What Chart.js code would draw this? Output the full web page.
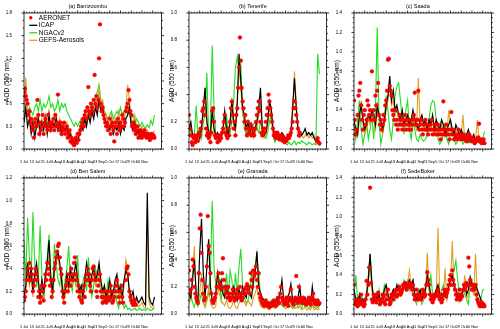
<!DOCTYPE html>
<html>
<head>
<meta charset="utf-8">
<script src="https://cdn.jsdelivr.net/npm/chart.js@4.4.0/dist/chart.umd.min.js"></script>
<style>
  html, body { margin: 0; padding: 0; background: #fff; }
  #wrap { position: relative; width: 500px; height: 329px; overflow: hidden; background: #fff; }
  #wrap canvas { position: absolute; }
</style>
</head>
<body>
<div id="wrap"></div>
<script>
// x axis = days since 1 Jul; model lines every 2 days, AERONET daily
const tickLabels = ["1 Jul", "13 Jul", "25 Jul", "6 Aug", "18 Aug", "30 Aug", "11 Sep",
  "23 Sep", "5 Oct", "17 Oct", "29 Oct", "10 Nov", "21 Nov"];
const siteNames = ["(a) Banizoumbu", "(b) Tenerife", "(c) Saada", "(d) Ben Salem", "(e) Granada", "(f) SedeBoker"];
const yMax = [1.8, 1.0, 1.4, 1.2, 1.0, 1.4];
const yStep = [0.3, 0.2, 0.2, 0.2, 0.2, 0.2];
const yMinor = [0.1, 0.05, 0.05, 0.05, 0.05, 0.05];

// (a) Banizoumbu
const aeronetA = [0.75,0.8,0.7,0.65,0.6,0.45,0.5,0.35,0.4,0.25,0.3,0.15,0.35,0.4,0.3,0.65,0.45,0.2,0.35,0.25,0.3,0.45,0.2,0.35,0.4,0.3,0.25,0.45,0.3,0.35,0.25,
  0.35,0.3,0.4,0.25,0.45,0.3,0.35,0.72,0.3,0.25,0.35,0.2,0.3,0.25,0.35,0.2,0.25,0.3,0.15,0.2,0.25,0.1,0.15,0.08,0.12,0.05,0.1,0.15,0.08,0.2,0.12,
  0.2,0.25,0.3,0.35,0.4,0.3,0.45,0.5,0.4,0.55,0.82,0.5,0.45,0.6,0.55,0.5,0.65,0.98,0.6,0.7,0.55,0.65,1.2,1.65,0.6,0.5,0.55,0.45,0.4,0.35,
  0.3,0.35,0.25,0.3,0.4,0.2,0.3,0.35,0.25,0.1,0.3,0.35,0.2,0.4,0.3,0.25,0.35,0.3,0.45,0.4,0.3,0.35,0.5,0.55,0.6,0.78,0.65,0.5,0.45,0.3,0.35,
  0.25,0.3,0.2,0.25,0.3,0.15,0.2,0.25,0.2,0.15,0.22,0.18,0.25,0.2,0.15,0.18,0.2,0.15,0.12,0.18,0.2,0.15,0.18,0.15];
const icapA = [0.35,0.55,0.3,0.4,0.2,0.35,0.15,0.3,0.4,0.2,0.35,0.25,
  0.4,0.2,0.45,0.25,0.35,0.3,0.4,0.25,0.35,0.2,0.3,0.25,
  0.3,0.15,0.2,0.1,0.08,0.15,0.1,0.2,0.3,0.25,0.4,0.3,
  0.45,0.35,0.5,0.4,0.55,0.45,0.65,0.5,0.55,0.4,0.35,0.3,
  0.25,0.35,0.2,0.3,0.25,0.35,0.2,0.3,0.25,0.4,0.45,0.55,
  0.3,0.25,0.35,0.2,0.25,0.15,0.25,0.2,0.15,0.2,0.12,0.18,
  0.15,0.18];
const ngacA = [0.35,0.5,0.45,0.55,0.5,0.45,0.55,0.6,0.5,0.65,0.5,0.6,
  0.55,0.6,0.7,0.55,0.6,0.5,0.55,0.65,0.5,0.6,0.55,0.6,
  0.5,0.45,0.4,0.35,0.3,0.35,0.3,0.35,0.4,0.35,0.45,0.4,
  0.5,0.45,0.6,0.55,0.7,0.75,0.85,0.65,0.55,0.5,0.45,0.4,
  0.45,0.5,0.4,0.45,0.5,0.45,0.55,0.45,0.5,0.55,0.45,0.5,
  0.4,0.45,0.35,0.4,0.35,0.3,0.35,0.3,0.28,0.32,0.28,0.38,
  0.32,0.45];
const gefsA = [0.4,0.95,0.45,0.5,0.3,0.4,0.25,0.35,0.45,0.3,0.4,0.3,
  0.45,0.3,0.5,0.3,0.4,0.35,0.45,0.3,0.4,0.25,0.35,0.3,
  0.35,0.2,0.25,0.12,0.05,0.12,0.1,0.25,0.35,0.3,0.45,0.35,
  0.5,0.45,0.55,0.45,0.6,0.55,0.8,0.6,0.65,0.5,0.45,0.35,
  0.3,0.45,0.3,0.4,0.35,0.5,0.3,0.4,0.35,0.55,0.85,0.65,
  0.4,0.3,0.45,0.3,0.3,0.2,0.3,0.25,0.2,0.25,0.18,0.22,
  0.2,0.25];

// (b) Tenerife
const aeronetB = [0.25,0.15,0.1,0.05,0.03,0.08,0.1,0.05,0.08,0.1,0.06,0.12,0.1,0.15,0.2,0.28,0.3,0.35,0.25,0.15,0.1,0.12,0.08,0.1,0.05,0.12,0.28,0.3,0.2,0.1,0.08,
  0.1,0.05,0.08,0.06,0.1,0.08,0.12,0.15,0.2,0.25,0.12,0.1,0.08,0.15,0.1,0.2,0.3,0.35,0.25,0.15,0.2,0.1,0.25,0.3,0.45,0.6,0.82,0.65,0.45,0.35,0.3,
  0.2,0.25,0.15,0.1,0.2,0.12,0.15,0.18,0.1,0.15,0.12,0.1,0.15,0.2,0.25,0.3,0.35,0.28,0.2,0.12,0.1,0.15,0.12,0.15,0.2,0.25,0.3,0.4,0.35,0.3,
  0.25,0.2,0.15,0.1,0.12,0.08,0.1,0.12,0.08,0.1,0.07,0.08,0.1,0.06,0.08,0.05,0.07,0.06,0.08,0.1,0.08,0.1,0.12,0.15,0.2,0.3,0.35,0.3,0.25,0.2,0.15,
  0.1,0.12,null,null,null,null,null,null,null,null,null,null,null,null,null,null,null,null,null,null,0.06,0.08,0.05,0.04];
const icapB = [0.15,0.2,0.1,0.08,0.05,0.1,0.08,0.15,0.3,0.45,0.2,0.12,
  0.1,0.3,0.15,0.1,0.12,0.08,0.1,0.15,0.28,0.15,0.1,0.2,
  0.35,0.2,0.15,0.35,0.7,0.5,0.3,0.25,0.15,0.2,0.12,0.18,
  0.1,0.15,0.2,0.3,0.45,0.15,0.1,0.12,0.2,0.35,0.3,0.15,
  0.1,0.12,0.08,0.1,0.12,0.1,0.08,0.07,0.1,0.12,0.3,0.52,
  0.3,0.15,0.12,0.1,0.12,0.15,0.1,0.12,0.1,0.12,0.08,0.06,
  0.05,0.06];
const ngacB = [0.1,0.15,0.08,0.1,0.32,0.1,0.15,0.08,0.2,0.25,0.56,0.1,
  0.15,0.76,0.3,0.1,0.08,0.1,0.08,0.15,0.12,0.25,0.1,0.12,
  0.2,0.35,0.6,0.68,0.55,0.62,0.3,0.15,0.1,0.2,0.15,0.1,
  0.18,0.2,0.15,0.12,0.2,0.15,0.1,0.08,0.12,0.2,0.25,0.1,
  0.05,0.08,0.06,0.1,0.08,0.05,0.04,0.03,0.05,0.03,0.04,0.06,
  0.03,0.05,0.04,0.06,0.05,0.04,0.03,0.05,0.04,0.03,0.04,0.03,
  0.7,0.55];
const gefsB = [0.12,0.18,0.08,0.07,0.05,0.08,0.07,0.12,0.28,0.45,0.18,0.1,
  0.08,0.25,0.12,0.08,0.1,0.07,0.08,0.12,0.25,0.12,0.08,0.18,
  0.38,0.18,0.12,0.3,0.6,0.45,0.25,0.2,0.12,0.15,0.1,0.15,
  0.08,0.12,0.15,0.25,0.35,0.12,0.08,0.1,0.15,0.3,0.25,0.12,
  0.08,0.1,0.06,0.08,0.1,0.08,0.06,0.05,0.08,0.1,0.25,0.57,
  0.35,0.12,0.08,0.1,0.08,0.1,0.12,0.08,0.1,0.08,0.1,0.06,
  0.05,0.04];

// (c) Saada
const aeronetC = [0.5,0.3,0.15,0.2,0.35,0.55,0.6,0.68,0.45,0.3,0.2,0.35,0.4,0.25,0.3,0.5,0.45,0.35,0.4,0.3,0.8,0.35,0.4,0.3,0.55,0.45,0.6,0.68,0.35,0.25,0.3,
  0.2,0.25,0.35,0.3,0.45,0.5,0.6,0.92,0.93,0.65,0.6,0.55,0.4,0.35,0.3,0.4,0.25,0.3,0.2,0.25,0.35,0.3,0.25,0.2,0.3,0.25,0.35,0.2,0.3,0.25,0.2,
  0.3,0.25,0.2,0.3,0.25,0.35,0.58,0.3,0.25,0.3,0.6,0.2,0.25,0.3,0.2,0.15,0.25,0.2,0.3,0.2,0.25,0.15,0.2,0.25,0.2,0.3,0.15,0.2,0.25,0.2,
  0.15,0.2,0.25,0.15,0.2,0.1,0.15,0.2,0.49,0.15,0.2,0.25,0.15,0.2,0.15,0.1,0.2,0.38,0.15,0.2,0.1,0.15,0.12,0.1,0.15,0.2,0.12,0.1,0.15,0.12,0.1,
  0.15,0.1,0.12,0.08,0.1,0.12,0.15,0.1,0.08,0.12,0.1,0.08,0.06,0.1,0.08,0.1,0.12,0.26,0.08,0.1,0.06,0.08,0.1,0.06];
const icapC = [0.3,0.2,0.15,0.35,0.45,0.3,0.2,0.25,0.35,0.3,0.4,0.35,
  0.25,0.45,0.35,0.3,0.2,0.3,0.45,0.55,0.75,0.5,0.6,0.4,
  0.45,0.35,0.3,0.4,0.25,0.3,0.35,0.25,0.3,0.4,0.3,0.25,
  0.2,0.3,0.35,0.25,0.3,0.2,0.3,0.25,0.35,0.2,0.3,0.25,
  0.2,0.3,0.25,0.15,0.2,0.25,0.3,0.2,0.15,0.25,0.2,0.15,
  0.2,0.15,0.1,0.15,0.2,0.12,0.1,0.15,0.08,0.1,0.12,0.08,
  0.06,0.08];
const ngacC = [0.25,0.1,0.3,0.5,0.2,0.05,0.15,0.3,0.1,0.2,0.35,0.1,
  0.4,1.25,0.3,0.05,0.15,0.3,0.55,0.4,0.2,0.1,0.3,0.55,
  0.65,0.68,0.5,0.3,0.15,0.4,0.5,0.2,0.1,0.3,0.2,0.1,
  0.08,0.15,0.1,0.08,0.1,0.15,0.3,0.45,0.5,0.48,0.3,0.1,
  0.05,0.08,0.15,0.25,0.1,0.05,0.15,0.2,0.1,0.05,0.08,0.12,
  0.1,0.05,0.08,0.1,0.06,0.12,0.1,0.05,0.08,0.1,0.06,0.05,
  0.1,0.18];
const gefsC = [0.25,0.15,0.12,0.3,0.5,0.25,0.15,0.2,0.3,0.25,0.35,0.3,
  0.2,0.4,0.3,0.25,0.15,0.25,0.4,0.5,0.65,0.45,0.5,0.35,
  0.4,0.3,0.25,0.35,0.2,0.25,0.3,0.2,0.25,0.35,0.25,0.2,
  0.73,0.25,0.3,0.2,0.25,0.15,0.25,0.2,0.3,0.15,0.25,0.2,
  0.15,0.25,0.2,0.12,0.15,0.4,0.25,0.15,0.12,0.2,0.15,0.12,
  0.15,0.35,0.08,0.12,0.15,0.1,0.08,0.12,0.06,0.3,0.1,0.06,
  0.05,0.06];

// (d) Ben Salem
const aeronetD = [0.12,0.15,0.2,0.3,0.4,0.35,0.45,0.3,0.4,0.35,0.2,0.25,0.3,0.4,0.35,0.3,0.15,0.2,0.1,0.15,0.25,0.2,0.12,0.25,0.35,0.3,0.45,0.4,0.35,0.25,0.3,
  0.15,0.2,0.3,0.4,0.45,0.5,0.55,0.6,0.62,0.5,0.4,0.35,0.2,0.15,0.1,0.2,0.25,0.3,0.2,0.35,0.3,0.25,0.4,0.35,0.3,0.45,0.5,0.35,0.3,0.2,0.25,
  0.15,0.2,0.12,0.1,0.2,0.25,0.15,0.3,0.35,0.4,0.3,0.35,0.25,0.2,0.3,0.4,0.42,0.35,0.3,0.2,0.15,0.25,0.3,0.35,0.2,0.15,0.1,0.15,0.2,0.12,
  0.1,0.15,0.2,0.12,0.15,0.25,0.2,0.1,0.12,0.15,0.2,0.25,0.3,0.2,0.15,0.1,0.2,0.25,0.15,0.1,null,null,0.3,0.4,0.42,0.35,0.2,0.15,0.12,0.1,0.08,
  0.1,0.12,0.08,null,null,null,null,null,null,null,null,null,null,null,null,null,null,null,null,null,null,null,null,null];
const icapD = [0.15,0.25,0.45,0.3,0.4,0.2,0.35,0.45,0.3,0.15,0.3,0.2,
  0.35,0.45,0.65,0.3,0.2,0.4,0.5,0.55,0.45,0.3,0.15,0.2,
  0.35,0.25,0.4,0.3,0.35,0.45,0.3,0.2,0.25,0.15,0.3,0.45,
  0.35,0.25,0.35,0.4,0.3,0.35,0.45,0.3,0.2,0.25,0.15,0.2,
  0.3,0.15,0.2,0.3,0.35,0.2,0.25,0.15,0.3,0.38,0.35,0.2,
  0.15,0.2,0.1,0.15,0.1,0.12,0.15,0.1,0.08,1.07,0.15,0.1,
  0.08,0.15];
const ngacD = [0.65,0.3,0.85,0.5,0.3,0.9,0.45,0.25,0.3,0.78,0.35,0.1,
  0.3,0.5,0.7,0.35,0.2,0.62,0.45,0.3,0.25,0.4,0.15,0.3,
  0.4,0.6,0.3,0.2,0.35,0.25,0.52,0.2,0.15,0.3,0.35,0.2,
  0.5,0.3,0.15,0.25,0.4,0.35,0.3,0.2,0.1,0.25,0.15,0.3,
  0.2,0.1,0.15,0.25,0.1,0.05,0.2,0.1,0.05,0.08,0.04,0.05,
  0.03,0.04,0.05,0.03,0.04,0.05,0.03,0.04,0.03,0.05,0.04,0.03,
  0.04,0.05];
const gefsD = [0.12,0.2,0.35,0.25,0.35,0.15,0.3,0.4,0.25,0.12,0.25,0.15,
  0.3,0.4,0.5,0.25,0.15,0.35,0.45,0.5,0.4,0.25,0.12,0.15,
  0.3,0.2,0.35,0.25,0.3,0.35,0.25,0.15,0.2,0.12,0.25,0.35,
  0.3,0.2,0.3,0.35,0.25,0.3,0.4,0.25,0.15,0.2,0.12,0.15,
  0.25,0.12,0.15,0.25,0.3,0.15,0.2,0.12,0.25,0.48,0.4,0.15,
  0.1,0.15,0.08,0.1,0.06,0.08,0.1,0.06,0.05,0.85,0.1,0.06,
  0.05,0.08];

// (e) Granada
const aeronetE = [0.32,0.15,0.18,0.25,0.4,0.35,0.2,0.15,0.12,0.1,0.08,0.3,0.63,0.73,0.45,0.25,0.15,0.1,0.12,0.2,0.35,0.72,0.5,0.45,0.3,0.15,0.1,0.08,0.1,0.12,0.15,
  0.2,0.25,0.3,0.2,0.22,0.18,0.3,0.41,0.25,0.2,0.15,0.18,0.12,0.2,0.15,0.1,0.12,0.15,0.18,0.12,0.1,0.15,0.12,0.18,0.15,0.12,0.2,0.15,0.1,0.12,0.15,
  0.18,0.15,0.2,0.22,0.18,0.2,0.15,0.3,0.25,0.2,0.32,0.28,0.3,0.35,0.25,0.2,0.3,0.15,0.12,0.1,0.08,0.07,0.06,0.08,0.1,0.07,0.06,0.08,0.05,0.07,
  0.08,0.06,0.07,0.1,0.08,0.06,0.07,0.1,0.12,0.08,0.15,0.2,0.12,0.1,0.08,0.07,0.1,0.12,0.08,0.06,0.1,0.12,0.18,0.1,0.08,0.07,0.1,0.12,0.28,0.1,0.08,
  0.2,0.12,0.1,0.08,0.1,0.12,0.08,0.1,0.07,0.08,0.1,0.12,0.08,0.07,0.1,0.12,0.15,0.08,0.1,0.07,0.08,0.1,0.07,0.08];
const icapE = [0.15,0.12,0.25,0.4,0.15,0.1,0.45,0.7,0.3,0.12,0.35,0.55,
  0.2,0.1,0.08,0.15,0.3,0.2,0.25,0.15,0.12,0.2,0.15,0.1,
  0.12,0.2,0.15,0.1,0.18,0.12,0.2,0.15,0.12,0.2,0.15,0.12,
  0.25,0.3,0.46,0.2,0.15,0.12,0.1,0.08,0.07,0.06,0.08,0.1,
  0.07,0.12,0.1,0.15,0.25,0.1,0.08,0.12,0.15,0.22,0.1,0.08,
  0.1,0.12,0.2,0.08,0.1,0.12,0.08,0.1,0.07,0.2,0.08,0.1,
  0.07,0.08];
const ngacE = [0.1,0.15,0.08,0.05,0.12,0.06,0.1,0.15,0.08,0.05,0.1,0.15,
  0.3,0.83,0.35,0.2,0.3,0.25,0.1,0.2,0.15,0.3,0.1,0.32,
  0.25,0.1,0.3,0.15,0.35,0.48,0.2,0.12,0.08,0.1,0.15,0.3,
  0.2,0.35,0.45,0.3,0.15,0.08,0.05,0.06,0.08,0.05,0.1,0.06,
  0.08,0.05,0.12,0.08,0.06,0.05,0.1,0.08,0.05,0.06,0.04,0.05,
  0.08,0.05,0.06,0.04,0.08,0.05,0.06,0.04,0.05,0.07,0.05,0.04,
  0.05,0.04];
const gefsE = [0.08,0.1,0.3,0.5,0.1,0.06,0.15,0.3,0.1,0.05,0.1,0.2,
  0.08,0.05,0.04,0.06,0.2,0.15,0.1,0.08,0.06,0.1,0.05,0.04,
  0.06,0.1,0.05,0.04,0.08,0.1,0.12,0.08,0.06,0.1,0.08,0.06,
  0.12,0.15,0.2,0.1,0.06,0.05,0.04,0.05,0.04,0.03,0.05,0.06,
  0.04,0.05,0.06,0.08,0.1,0.05,0.04,0.05,0.06,0.1,0.05,0.04,
  0.05,0.04,0.06,0.03,0.04,0.05,0.03,0.04,0.03,0.06,0.03,0.04,
  0.03,0.04];

// (f) SedeBoker
const aeronetF = [0.3,0.12,0.1,0.15,0.08,0.12,0.1,0.15,0.2,0.1,0.12,0.08,0.1,0.15,0.34,0.2,0.3,0.48,1.3,0.32,0.15,0.12,0.2,0.18,0.15,0.12,0.2,0.22,0.15,0.1,0.12,
  0.15,0.2,0.18,0.12,0.1,0.15,0.2,0.25,0.15,0.1,0.12,0.2,0.18,0.15,0.22,0.2,0.25,0.18,0.2,0.25,0.28,0.2,0.22,0.25,0.3,0.28,0.32,0.3,0.25,0.3,0.28,
  0.32,0.3,0.28,0.25,0.3,0.2,0.15,0.18,0.25,0.2,0.15,0.2,0.18,0.15,0.2,0.25,0.22,0.18,0.2,0.3,0.43,0.35,0.3,0.2,0.15,0.18,0.12,0.15,0.2,0.18,
  0.2,0.22,0.25,0.18,0.15,0.2,0.12,0.15,0.2,0.25,0.2,0.18,0.22,0.25,0.3,0.35,0.4,0.3,0.45,0.35,0.3,0.25,0.2,0.15,0.18,0.2,0.25,0.15,0.2,0.18,0.25,
  0.3,0.25,0.28,0.32,0.3,0.58,0.49,0.35,0.3,0.25,0.3,0.28,0.25,0.3,0.2,0.15,0.12,0.1,0.08,0.1,0.12,0.08,0.1,0.08];
const icapF = [0.25,0.15,0.1,0.2,0.12,0.15,0.1,0.2,0.35,0.62,0.3,0.15,
  0.2,0.15,0.2,0.12,0.15,0.25,0.3,0.2,0.15,0.2,0.25,0.2,
  0.3,0.25,0.2,0.25,0.3,0.25,0.3,0.35,0.3,0.35,0.2,0.15,
  0.2,0.25,0.15,0.2,0.25,0.4,0.3,0.2,0.15,0.2,0.25,0.3,
  0.2,0.15,0.2,0.25,0.2,0.3,0.35,0.4,0.3,0.25,0.2,0.15,
  0.2,0.25,0.3,0.2,0.25,0.38,0.3,0.25,0.3,0.25,0.2,0.15,
  0.1,0.08];
const ngacF = [0.2,0.4,0.15,0.1,0.2,0.15,0.1,0.2,0.4,0.62,0.35,0.15,
  0.2,0.15,0.25,0.1,0.15,0.3,0.25,0.15,0.1,0.2,0.25,0.15,
  0.25,0.3,0.2,0.25,0.35,0.3,0.35,0.25,0.3,0.2,0.15,0.1,
  0.25,0.2,0.1,0.15,0.3,0.35,0.25,0.4,0.2,0.15,0.25,0.2,
  0.15,0.25,0.3,0.2,0.15,0.25,0.35,0.4,0.45,0.55,0.35,0.2,
  0.15,0.25,0.2,0.15,0.1,0.3,0.35,0.25,0.2,0.15,0.1,0.15,
  0.25,0.25];
const gefsF = [0.2,0.12,0.1,0.15,0.1,0.12,0.1,0.15,0.3,0.55,0.25,0.12,
  0.15,0.12,0.15,0.1,0.12,0.2,0.25,0.15,0.12,0.15,0.2,0.18,
  0.25,0.2,0.18,0.2,0.3,0.28,0.3,0.45,0.3,0.35,0.2,0.12,
  0.15,0.2,0.12,0.15,0.2,0.63,0.25,0.15,0.12,0.15,0.2,0.89,
  0.15,0.12,0.15,0.47,0.15,0.25,0.3,0.75,0.25,0.2,0.15,0.12,
  0.15,0.2,0.4,0.15,0.2,0.3,0.25,0.2,0.62,0.2,0.15,0.12,
  0.08,0.06];

const panels = [
  [aeronetA, icapA, ngacA, gefsA],
  [aeronetB, icapB, ngacB, gefsB],
  [aeronetC, icapC, ngacC, gefsC],
  [aeronetD, icapD, ngacD, gefsD],
  [aeronetE, icapE, ngacE, gefsE],
  [aeronetF, icapF, ngacF, gefsF],
];

const FONT = "'Liberation Sans', Arial, Helvetica, sans-serif";

// frame with outward major/minor tick marks on all four sides
const framePlugin = {
  id: "frame",
  afterDraw(chart, args, opts) {
    const { ctx, chartArea: a, scales } = chart;
    ctx.save();
    ctx.strokeStyle = "#000";
    ctx.lineWidth = 0.8;
    ctx.strokeRect(a.left, a.top, a.right - a.left, a.bottom - a.top);
    ctx.beginPath();
    for (let d = 0; d <= scales.x.max; d += 3) {
      const px = scales.x.getPixelForValue(d);
      const len = d % 12 === 0 ? 2.5 : 1.3;
      ctx.moveTo(px, a.bottom); ctx.lineTo(px, a.bottom + len);
      ctx.moveTo(px, a.top); ctx.lineTo(px, a.top - len);
    }
    const n = Math.round(scales.y.max / opts.minor);
    for (let k = 0; k <= n; k++) {
      const v = k * opts.minor;
      const r = v / opts.step;
      const len = Math.abs(r - Math.round(r)) < 1e-6 ? 2.5 : 1.3;
      const py = scales.y.getPixelForValue(v);
      ctx.moveTo(a.left, py); ctx.lineTo(a.left - len, py);
      ctx.moveTo(a.right, py); ctx.lineTo(a.right + len, py);
    }
    ctx.stroke();
    ctx.restore();
  },
};

const titlePlugin = {
  id: "panelTitle",
  afterDraw(chart, args, opts) {
    const { ctx, chartArea: a } = chart;
    ctx.save();
    ctx.fillStyle = "#000";
    ctx.font = "5.5px " + FONT;
    ctx.textAlign = "center";
    ctx.textBaseline = "middle";
    ctx.fillText(opts.text, (a.left + a.right) / 2 - 5, 6);
    ctx.restore();
  },
};

const legendPlugin = {
  id: "aodLegend",
  afterDraw(chart, args, opts) {
    if (!opts.show) return;
    const { ctx, chartArea: a } = chart;
    ctx.save();
    ctx.font = "6.5px " + FONT;
    ctx.textBaseline = "middle";
    chart.data.datasets.forEach((ds, i) => {
      const y = a.top + 4.8 + i * 7.5;
      const x0 = a.left + 5.3;
      if (i === 0) {
        ctx.fillStyle = ds.pointBackgroundColor;
        ctx.beginPath();
        ctx.arc(x0 + 1.5, y, 1.7, 0, Math.PI * 2);
        ctx.fill();
      } else {
        ctx.strokeStyle = ds.borderColor;
        ctx.lineWidth = 1.3;
        ctx.beginPath();
        ctx.moveTo(x0, y);
        ctx.lineTo(x0 + 8, y);
        ctx.stroke();
      }
      ctx.fillStyle = "#000";
      ctx.fillText(ds.label, x0 + 9.5, y);
    });
    ctx.restore();
  },
};

const wrap = document.getElementById("wrap");
const toPoints = (arr, step) => arr.map((v, i) => ({ x: i * step, y: v }));

panels.forEach(([aeronet, icap, ngac, gefs], idx) => {
  const canvas = document.createElement("canvas");
  canvas.width = 166;
  canvas.height = 164;
  canvas.style.left = (idx % 3) * 165 + "px";
  canvas.style.top = Math.floor(idx / 3) * 165 + "px";
  wrap.appendChild(canvas);

  new Chart(canvas.getContext("2d"), {
    type: "line",
    data: {
      datasets: [
        { label: "AERONET", data: toPoints(aeronet, 1), showLine: false, pointRadius: 1.9,
          pointBackgroundColor: "#ff0000", pointBorderColor: "#d40000", pointBorderWidth: 0.4, order: 0 },
        { label: "ICAP", data: toPoints(icap, 2), borderColor: "#000000", borderWidth: 1.2, pointRadius: 0, order: 1 },
        { label: "NGACv2", data: toPoints(ngac, 2), borderColor: "#22dd22", borderWidth: 1.1, pointRadius: 0, order: 3 },
        { label: "GEFS-Aerosols", data: toPoints(gefs, 2), borderColor: "#dfa020", borderWidth: 1.1, pointRadius: 0, order: 2 },
      ],
    },
    options: {
      responsive: false,
      animation: false,
      devicePixelRatio: 1,
      layout: { padding: { top: 13, right: 3, left: 0, bottom: 0 } },
      elements: { line: { tension: 0 } },
      plugins: {
        legend: { display: false },
        tooltip: { enabled: false },
        panelTitle: { text: siteNames[idx] },
        aodLegend: { show: idx === 0 },
        frame: { step: yStep[idx], minor: yMinor[idx] },
      },
      scales: {
        x: {
          type: "linear", min: 0, max: 154,
          grid: { display: false }, border: { display: false },
          ticks: {
            stepSize: 12, autoSkip: false, maxRotation: 0, padding: 3, color: "#000",
            font: { size: 3.8, family: FONT },
            callback: (v) => (v % 12 === 0 ? tickLabels[v / 12] : ""),
          },
          afterFit: (s) => { s.height = 15; },
        },
        y: {
          min: 0, max: yMax[idx],
          grid: { display: false }, border: { display: false },
          ticks: {
            stepSize: yStep[idx], padding: 4, color: "#000",
            font: { size: 4.5, family: FONT },
            callback: (v) => v.toFixed(1),
          },
          title: { display: true, text: "AOD (550 nm)", color: "#000",
            font: { size: 6.5, family: FONT }, padding: { top: 3, bottom: 0 } },
          afterFit: (s) => { s.width = 24; },
        },
      },
    },
    plugins: [framePlugin, titlePlugin, legendPlugin],
  });
});
</script>
</body>
</html>
